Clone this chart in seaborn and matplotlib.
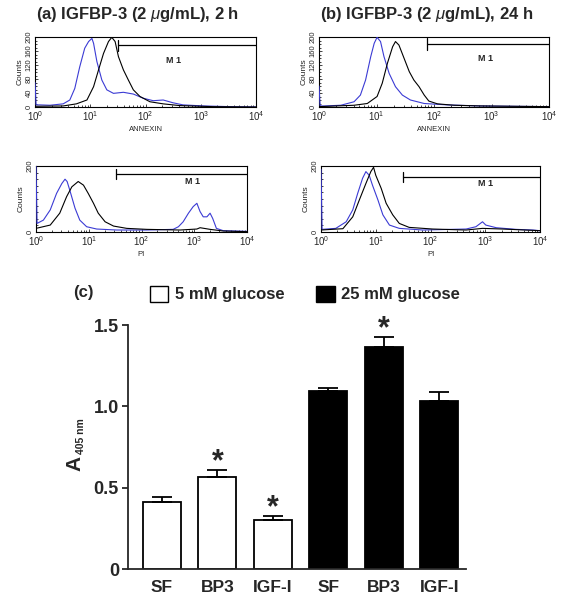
import numpy as np
import pandas as pd
import matplotlib
matplotlib.use('Agg')
import matplotlib.pyplot as plt
from matplotlib.patches import Patch
from matplotlib.ticker import MultipleLocator, LogLocator, NullFormatter
import seaborn as sns

sns.set_style('ticks')
plt.rcParams['font.family'] = ['Liberation Sans', 'DejaVu Sans']
plt.rcParams['mathtext.fontset'] = 'custom'
plt.rcParams['mathtext.rm'] = 'Liberation Sans'
plt.rcParams['mathtext.it'] = 'Liberation Sans:italic'
plt.rcParams['mathtext.bf'] = 'Liberation Sans:bold'

BLUE = '#3b3bd4'

# --- flow cytometry histograms (log10 channel, counts) ---
annexin_2h_blue_log = [0.0, 0.02, 0.09, 0.27, 0.51, 0.63, 0.72, 0.81, 0.90, 0.97, 1.03, 1.06, 1.12,
                       1.21, 1.30, 1.42, 1.60, 1.78, 1.96, 2.14, 2.32, 2.50, 2.68, 3.05, 3.53, 4.0]
annexin_2h_blue_counts = [70, 6, 6, 5, 9, 20, 53, 115, 168, 187, 196, 182, 130,
                          77, 49, 39, 42, 37, 25, 18, 20, 12, 6, 3, 1, 0]
annexin_2h_black_log = [0.0, 0.51, 0.75, 0.94, 1.06, 1.15, 1.24, 1.33, 1.39, 1.45, 1.51, 1.60,
                        1.69, 1.78, 1.90, 2.08, 2.32, 2.62, 3.23, 4.0]
annexin_2h_black_counts = [2, 3, 9, 20, 58, 106, 153, 187, 199, 187, 144, 106,
                           77, 49, 30, 15, 9, 4, 1, 0]

annexin_24h_blue_log = [0.0, 0.02, 0.09, 0.38, 0.61, 0.72, 0.81, 0.90, 0.96, 1.01, 1.07, 1.13,
                        1.22, 1.33, 1.45, 1.59, 1.83, 2.23, 2.81, 3.39, 4.0]
annexin_24h_blue_counts = [60, 3, 3, 5, 15, 34, 77, 144, 182, 199, 187, 144,
                           96, 58, 34, 20, 10, 6, 3, 2, 1]
annexin_24h_black_log = [0.0, 0.61, 0.84, 1.01, 1.10, 1.19, 1.28, 1.33, 1.39, 1.48, 1.57, 1.65,
                         1.74, 1.83, 1.91, 2.06, 2.35, 2.81, 4.0]
annexin_24h_black_counts = [1, 5, 10, 30, 68, 125, 172, 187, 177, 139, 101, 77,
                            58, 34, 17, 9, 5, 3, 1]

pi_2h_blue_log = [0.0, 0.02, 0.14, 0.27, 0.39, 0.49, 0.55, 0.59, 0.64, 0.74, 0.83, 0.96, 1.15,
                  1.53, 2.10, 2.60, 2.70, 2.79, 2.89, 2.98, 3.05, 3.11, 3.17, 3.24, 3.30, 3.35,
                  3.42, 3.55, 4.0]
pi_2h_blue_counts = [200, 26, 36, 67, 117, 147, 160, 153, 127, 72, 36, 16, 9,
                     6, 6, 8, 16, 31, 57, 77, 87, 62, 46, 46, 57, 41,
                     11, 4, 2]
pi_2h_black_log = [0.0, 0.27, 0.45, 0.58, 0.68, 0.80, 0.90, 0.99, 1.09, 1.18, 1.31, 1.47,
                   1.72, 2.10, 2.73, 3.05, 3.11, 3.30, 3.55, 4.0]
pi_2h_black_counts = [11, 21, 57, 107, 137, 153, 142, 117, 87, 57, 31, 18,
                      11, 8, 6, 9, 13, 8, 3, 1]

pi_24h_blue_log = [0.0, 0.02, 0.27, 0.46, 0.58, 0.67, 0.76, 0.82, 0.88, 0.94, 1.04, 1.13,
                   1.25, 1.43, 1.86, 2.65, 2.83, 2.95, 3.01, 3.20, 3.56, 3.87, 4.0]
pi_24h_blue_counts = [190, 8, 11, 31, 67, 117, 163, 183, 172, 142, 97, 52,
                      21, 11, 6, 9, 16, 31, 21, 13, 8, 6, 4]
pi_24h_black_log = [0.0, 0.40, 0.58, 0.70, 0.82, 0.91, 0.96, 1.00, 1.10, 1.19, 1.31, 1.43,
                    1.61, 2.04, 2.65, 2.95, 3.32, 4.0]
pi_24h_black_counts = [6, 10, 46, 97, 147, 183, 196, 172, 132, 87, 52, 26,
                       14, 9, 6, 11, 9, 4]

# --- bar chart (c) ---
treatments = ['SF', 'BP3', 'IGF-I']
glucose_levels = ['5 mM glucose', '25 mM glucose']
means_5mM = [0.41, 0.565, 0.30]
sem_5mM = [0.03, 0.045, 0.025]
means_25mM = [1.094, 1.365, 1.033]
sem_25mM = [0.016, 0.06, 0.055]
significant = [False, True, True, False, True, False]
ytick_values = [0, 0.5, 1.0, 1.5]
ytick_labels = ['0', '0.5', '1.0', '1.5']

fig = plt.figure(figsize=(5.62, 6.01), dpi=100)
W, H = 562, 601


def px_axes(left, top, right, bottom):
    return fig.add_axes([left / W, 1 - bottom / H, (right - left) / W, (bottom - top) / H])


def histogram(ax, blue_log, blue_counts, black_log, black_counts, label, marker_x, marker_y,
              text_x, text_y, major_step, minor_step):
    sns.lineplot(x=10 ** np.array(blue_log), y=blue_counts, color=BLUE, linewidth=0.8,
                 zorder=3, ax=ax)
    sns.lineplot(x=10 ** np.array(black_log), y=black_counts, color='black', linewidth=0.8,
                 zorder=3, ax=ax)
    ax.set_xscale('log')
    ax.set_xlim(1, 1e4)
    ax.set_ylim(0, 200)
    ax.yaxis.set_major_locator(MultipleLocator(major_step))
    ax.yaxis.set_minor_locator(MultipleLocator(minor_step))
    ax.xaxis.set_major_locator(LogLocator(base=10, numticks=10))
    ax.xaxis.set_minor_locator(LogLocator(base=10, subs=np.arange(2, 10), numticks=10))
    ax.xaxis.set_minor_formatter(NullFormatter())
    ax.tick_params(which='both', direction='in', length=2.5, width=0.6, labelsize=7, pad=1.5)
    ax.tick_params(which='minor', length=1.5)
    ax.tick_params(axis='y', labelrotation=90, labelsize=5.5)
    for lab in ax.get_yticklabels():
        lab.set_va('center')
    for s in ax.spines.values():
        s.set_linewidth(0.8)
        s.set_color('black')
    ax.set_xlabel(label, fontsize=5.5, labelpad=2)
    ax.set_ylabel('Counts', fontsize=6, labelpad=2)
    # M1 gate marker
    ax.plot([marker_x, 1e4], [marker_y, marker_y], color='black', lw=0.9)
    ax.plot([marker_x, marker_x], [marker_y - 16, marker_y + 16], color='black', lw=0.9)
    ax.text(text_x, text_y, 'M 1', fontsize=6.5, weight='bold', ha='center', va='center')


ax1 = px_axes(35, 37, 256, 107)
histogram(ax1, annexin_2h_blue_log, annexin_2h_blue_counts, annexin_2h_black_log,
          annexin_2h_black_counts, 'ANNEXIN', 10 ** 1.5, 176, 10 ** 2.5, 134, 40, 10)
ax2 = px_axes(319, 37, 549, 107)
histogram(ax2, annexin_24h_blue_log, annexin_24h_blue_counts, annexin_24h_black_log,
          annexin_24h_black_counts, 'ANNEXIN', 10 ** 1.87, 180, 10 ** 2.9, 138, 40, 10)
ax3 = px_axes(36, 166, 247, 232)
histogram(ax3, pi_2h_blue_log, pi_2h_blue_counts, pi_2h_black_log,
          pi_2h_black_counts, 'PI', 10 ** 1.52, 176, 10 ** 2.96, 152, 200, 20)
ax4 = px_axes(321, 166, 540, 232)
histogram(ax4, pi_24h_blue_log, pi_24h_blue_counts, pi_24h_black_log,
          pi_24h_black_counts, 'PI', 10 ** 1.5, 167, 10 ** 3.01, 148, 200, 20)

fig.text(138 / W, 1 - 15 / H, r'(a) IGFBP-3 (2 $\mu$g/mL), 2 h', fontsize=12, weight='bold',
         ha='center', va='center')
fig.text(427 / W, 1 - 15 / H, r'(b) IGFBP-3 (2 $\mu$g/mL), 24 h', fontsize=12, weight='bold',
         ha='center', va='center')

# --- panel (c) ---
axc = px_axes(128, 325, 466, 569)
bar_df = pd.DataFrame({
    'bar': [f'{g}|{t}' for g in glucose_levels for t in treatments],
    'glucose': [g for g in glucose_levels for t in treatments],
    'A405': means_5mM + means_25mM,
})
sns.barplot(data=bar_df, x='bar', y='A405', hue='glucose',
            palette={'5 mM glucose': 'white', '25 mM glucose': 'black'},
            dodge=False, width=0.685, edgecolor='black', linewidth=1.3,
            legend=False, ax=axc)
means = np.array(means_5mM + means_25mM)
sems = np.array(sem_5mM + sem_25mM)
axc.errorbar(np.arange(len(means)), means, yerr=[np.zeros(len(sems)), sems], fmt='none',
             ecolor='black', elinewidth=1.3, capsize=7, capthick=1.3)
for i, sig in enumerate(significant):
    if sig:
        axc.text(i, means[i] + sems[i] - 0.045, '*', fontsize=22, weight='bold',
                 ha='center', va='bottom', clip_on=False)

axc.set_xlim(-0.61, 5.48)
axc.set_ylim(0, 1.5)
axc.set_yticks(ytick_values)
axc.set_yticklabels(ytick_labels)
axc.set_xticks(range(6))
axc.set_xticklabels(treatments * 2)
axc.tick_params(axis='y', length=4.5, width=1.3, labelsize=13, pad=2)
axc.tick_params(axis='x', length=0, labelsize=12.5, pad=8)
for lab in axc.get_xticklabels() + axc.get_yticklabels():
    lab.set_fontweight('bold')
sns.despine(ax=axc)
axc.spines['left'].set_linewidth(1.3)
axc.spines['bottom'].set_linewidth(1.3)
axc.set_xlabel('')
axc.set_ylabel('')
fig.text(75 / W, 1 - 463 / H, 'A', fontsize=15, weight='bold', rotation=90,
         ha='center', va='center')
fig.text(81 / W, 1 - 436 / H, '405 nm', fontsize=7.5, weight='bold', rotation=90,
         ha='center', va='center')

handles = [Patch(facecolor='white', edgecolor='black', linewidth=1),
           Patch(facecolor='black', edgecolor='black', linewidth=1)]
fig.legend(handles, glucose_levels, ncol=2, loc='center left',
           bbox_to_anchor=(150 / W, 1 - 294 / H), frameon=False,
           prop={'weight': 'bold', 'size': 12}, handlelength=1.1, handleheight=1.1,
           handletextpad=0.4, columnspacing=1.9, borderpad=0, borderaxespad=0)
fig.text(73 / W, 1 - 292 / H, '(c)', fontsize=12, weight='bold', va='center')

fig.savefig('out.png', dpi=100)
